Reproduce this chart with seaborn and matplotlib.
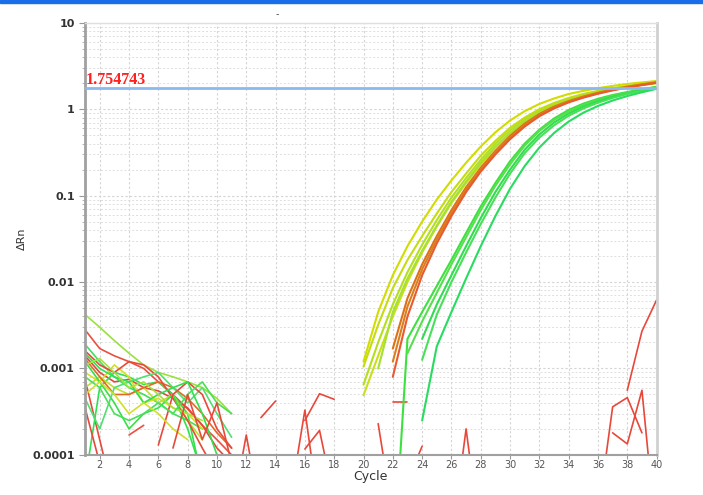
import numpy as np
import pandas as pd
import seaborn as sns
import matplotlib.pyplot as plt
from matplotlib.ticker import LogLocator, FixedLocator, NullFormatter

nan = np.nan

# Amplification curves, cycles 20..40
amp_cycles = list(range(20, 41))
amp_curves = {
    "Y1": ("#d2dc00", [0.0012, 0.0045, 0.012, 0.026, 0.05, 0.09, 0.15, 0.24, 0.37, 0.54, 0.74, 0.95, 1.15, 1.33, 1.5, 1.63, 1.75, 1.86, 1.96, 2.04, 2.12]),
    "L1": ("#c4dc10", [0.00105, 0.0032, 0.0085, 0.018, 0.034, 0.062, 0.11, 0.18, 0.29, 0.43, 0.61, 0.8, 1.0, 1.18, 1.35, 1.5, 1.63, 1.75, 1.86, 1.96, 2.05]),
    "L2": ("#b4de20", [0.00065, 0.002, 0.0055, 0.013, 0.027, 0.052, 0.095, 0.16, 0.26, 0.4, 0.57, 0.76, 0.96, 1.14, 1.3, 1.46, 1.6, 1.72, 1.84, 1.94, 2.03]),
    "L3": ("#c8e018", [0.00049, 0.0014, 0.004, 0.01, 0.022, 0.044, 0.082, 0.14, 0.23, 0.36, 0.52, 0.7, 0.9, 1.08, 1.25, 1.41, 1.55, 1.68, 1.8, 1.91, 2.0]),
    "L4": ("#a6e030", [nan, 0.001, 0.0045, 0.011, 0.023, 0.045, 0.085, 0.145, 0.24, 0.37, 0.53, 0.72, 0.91, 1.1, 1.27, 1.42, 1.56, 1.69, 1.81, 1.92, 2.01]),
    "O1": ("#e07018", [nan, nan, 0.0017, 0.0065, 0.016, 0.034, 0.068, 0.125, 0.21, 0.33, 0.49, 0.68, 0.88, 1.07, 1.24, 1.4, 1.55, 1.69, 1.82, 1.94, 2.05]),
    "O3": ("#d8801c", [nan, nan, 0.0012, 0.0052, 0.014, 0.031, 0.063, 0.118, 0.2, 0.315, 0.47, 0.655, 0.85, 1.04, 1.22, 1.38, 1.53, 1.67, 1.8, 1.92, 2.03]),
    "O2": ("#e85a30", [nan, nan, 0.0008, 0.004, 0.012, 0.028, 0.058, 0.11, 0.19, 0.3, 0.45, 0.63, 0.83, 1.02, 1.2, 1.36, 1.51, 1.65, 1.78, 1.9, 2.02]),
    "G1": ("#3ee040", [nan, nan, 0.000004, 0.0022, 0.0045, 0.009, 0.018, 0.037, 0.075, 0.14, 0.25, 0.4, 0.58, 0.78, 0.98, 1.16, 1.32, 1.46, 1.58, 1.7, 1.82]),
    "G2": ("#56e04c", [nan, nan, nan, 0.0015, 0.0035, 0.0075, 0.016, 0.033, 0.068, 0.13, 0.23, 0.38, 0.56, 0.75, 0.94, 1.12, 1.28, 1.43, 1.56, 1.68, 1.8]),
    "G3": ("#30dc50", [nan, nan, nan, nan, 0.0022, 0.0055, 0.012, 0.026, 0.055, 0.11, 0.2, 0.34, 0.51, 0.7, 0.89, 1.07, 1.24, 1.39, 1.53, 1.66, 1.78]),
    "G4": ("#48e058", [nan, nan, nan, nan, 0.00126, 0.0042, 0.01, 0.022, 0.047, 0.095, 0.18, 0.31, 0.47, 0.65, 0.84, 1.02, 1.19, 1.35, 1.5, 1.63, 1.76]),
    "G5": ("#28dc60", [nan, nan, nan, nan, 0.00025, 0.0018, 0.0045, 0.011, 0.026, 0.058, 0.12, 0.22, 0.36, 0.53, 0.72, 0.91, 1.09, 1.26, 1.42, 1.57, 1.72]),
}

# Baseline noise, cycles 1..11
noise_cycles = list(range(1, 12))
noise_curves = [
    ("#9be040", [0.0042, 0.0030, 0.0021, 0.0015, 0.0011, 0.0009, 0.0008, 0.0007, 0.0006, 0.00045, 0.0003]),
    ("#e85040", [0.0028, 0.0017, 0.0014, 0.0012, 0.001, 0.0007, 0.0005, 0.00034, 0.00022, 0.00015, 0.0001]),
    ("#e04a3c", [0.0014, 0.0009, 0.0007, 0.00075, 0.0006, 0.00055, 0.00045, 0.00035, 0.00022, 0.00012, 0.00008]),
    ("#e84a3a", [0.00075, 0.00015, 0.00003, nan, nan, nan, nan, nan, nan, nan, nan]),
    ("#30e050", [0.00005, 0.0006, 0.0009, 0.0008, 0.00065, 0.0007, 0.0005, 0.0003, 0.00005, nan, nan]),
    ("#40e060", [0.0019, 0.0012, 0.0008, 0.0006, 0.0005, 0.0004, 0.0003, 0.00025, 0.0002, nan, nan]),
    ("#d6e020", [0.0009, 0.0007, 0.0011, 0.0008, 0.0004, 0.00045, 0.00035, 0.0003, 0.0002, nan, nan]),
    ("#c0e030", [0.0006, 0.0008, 0.0006, 0.0005, 0.0006, 0.0004, 0.0005, 0.00025, 0.00015, nan, nan]),
    ("#e06a28", [0.0013, 0.0008, 0.0005, 0.0005, 0.0006, 0.0007, 0.0006, 0.00045, 0.0003, 0.00018, 0.00012]),
    ("#e84a3a", [0.0016, 0.0011, 0.0009, 0.0012, 0.0011, 0.0008, 0.00045, 0.00025, 0.00012, 0.00006, nan]),
    ("#38e048", [0.0012, 0.0007, 0.0004, 0.0002, 0.0003, 0.00035, 0.0005, 0.0002, 0.00006, nan, nan]),
    ("#50e070", [0.00045, 0.0002, 0.0006, 0.0007, 0.0008, 0.0009, 0.0006, 0.0004, 0.0006, 0.0003, 0.00016]),
    ("#e84a3a", [0.00035, 0.00008, nan, nan, nan, nan, nan, nan, nan, nan, nan]),
    ("#e85040", [nan, nan, nan, 0.00017, 0.00022, nan, nan, nan, nan, nan, nan]),
    ("#e84a3a", [nan, nan, nan, nan, nan, 0.00013, 0.0005, 0.0007, 0.0005, 0.0002, 0.00012]),
    ("#30e050", [0.0015, 0.0010, 0.0008, 0.0007, 0.0004, 0.0005, 0.0006, 0.0007, 0.0003, 0.0001, nan]),
    ("#a8e040", [0.0011, 0.0013, 0.0009, 0.0006, 0.0007, 0.0005, 0.00035, 0.0003, 0.00025, nan, nan]),
    ("#48e058", [0.0008, 0.0006, 0.0003, 0.00025, 0.0003, 0.0004, 0.0003, 0.0005, 0.0007, 0.0004, 0.0003]),
    ("#d0e028", [0.0005, 0.0007, 0.0005, 0.0003, 0.0004, 0.0003, 0.0002, 0.00015, nan, nan, nan]),
    ("#e84a3a", [nan, nan, nan, nan, nan, nan, 0.00012, 0.0005, 0.00015, 0.0004, 0.00008]),
]

# Short red fragments later in the run: (cycles, values)
fragments = [
    ([11, 12, 13], [0.00002, 0.00017, 0.00002]),
    ([13, 14], [0.00027, 0.00042]),
    ([15, 16, 17], [0.00003, 0.00033, 0.00002]),
    ([16, 17, 18], [0.00025, 0.00051, 0.00044]),
    ([16, 17, 18], [0.000117, 0.000192, 0.00003]),
    ([21, 22], [0.00023, 0.00002]),
    ([22, 23], [0.00041, 0.00041]),
    ([23, 24], [0.00005, 0.000126]),
    ([26, 27, 28], [0.00001, 0.0002, 0.00001]),
    ([36, 37, 38, 39], [0.00002, 0.00036, 0.00046, 0.00018]),
    ([37, 38, 39, 40], [0.00018, 0.000134, 0.00056, 0.00001]),
    ([38, 39, 40], [0.00056, 0.0027, 0.0062]),
]

threshold = 1.754743
x_ticks = list(range(2, 41, 2))
y_ticks = [0.0001, 0.001, 0.01, 0.1, 1, 10]
y_labels = ["0.0001", "0.001", "0.01", "0.1", "1", "10"]

sns.set_style("white")
fig = plt.figure(figsize=(7.03, 4.95), dpi=100)
ax = fig.add_axes([0.121, 0.081, 0.813, 0.873])

for color, vals in noise_curves:
    df = pd.DataFrame({"Cycle": noise_cycles, "dRn": vals}).dropna()
    sns.lineplot(data=df, x="Cycle", y="dRn", color=color, lw=1.2, ax=ax, estimator=None)

for cyc, vals in fragments:
    sns.lineplot(x=cyc, y=vals, color="#e8483a", lw=1.2, ax=ax, estimator=None)

for name, (color, vals) in amp_curves.items():
    df = pd.DataFrame({"Cycle": amp_cycles, "dRn": vals}).dropna()
    sns.lineplot(data=df, x="Cycle", y="dRn", color=color, lw=1.5, ax=ax, estimator=None)

ax.set_yscale("log")
ax.set_xlim(1, 40)
ax.set_ylim(0.0001, 10)

ax.axhline(threshold, color="#8cb8f0", lw=2, zorder=5)
ax.text(1.05, threshold * 1.01, f"{threshold:.6f}", color="#ff2020",
        family=["Liberation Serif", "DejaVu Serif"], fontweight="bold",
        fontsize=11.5, va="bottom", ha="left", zorder=6)

ax.xaxis.set_major_locator(FixedLocator(x_ticks))
ax.set_yticks(y_ticks)
ax.set_yticklabels(y_labels)
ax.yaxis.set_minor_locator(LogLocator(base=10, subs=np.arange(2, 10)))
ax.yaxis.set_minor_formatter(NullFormatter())

ax.grid(which="major", color="#d4d4d4", ls=(0, (2, 2)), lw=0.8)
ax.grid(which="minor", axis="y", color="#dedede", ls=(0, (2, 2)), lw=0.7)
ax.set_axisbelow(True)

ax.tick_params(axis="y", which="major", labelsize=8, length=4, color="#999999",
               labelcolor="#333333", left=True)
ax.tick_params(axis="y", which="minor", length=2, color="#aaaaaa", left=True)
ax.tick_params(axis="x", labelsize=7, length=3, color="#999999",
               labelcolor="#555555", bottom=True, pad=1)
for lab in ax.get_yticklabels():
    lab.set_fontweight("bold")

ax.set_xlabel("Cycle", fontsize=9, color="#333333", labelpad=0)
ax.set_ylabel("\u0394Rn", fontsize=8, color="#333333", labelpad=4)

ax.spines["left"].set_color("#a0a0a0")
ax.spines["left"].set_linewidth(2)
ax.spines["bottom"].set_color("#a0a0a0")
ax.spines["bottom"].set_linewidth(1.5)
ax.spines["right"].set_color("#d0d0d0")
ax.spines["right"].set_linewidth(2)
ax.spines["top"].set_color("#e0e0e0")
ax.spines["top"].set_linewidth(1)

fig.patches.append(plt.Rectangle((0, 1 - 3 / 495), 1, 3 / 495, transform=fig.transFigure,
                                 color="#1a6fe8", zorder=10))
fig.text(0.395, 0.965, "-", fontsize=7, color="#555555", ha="center")

plt.savefig("out.png", dpi=100)
